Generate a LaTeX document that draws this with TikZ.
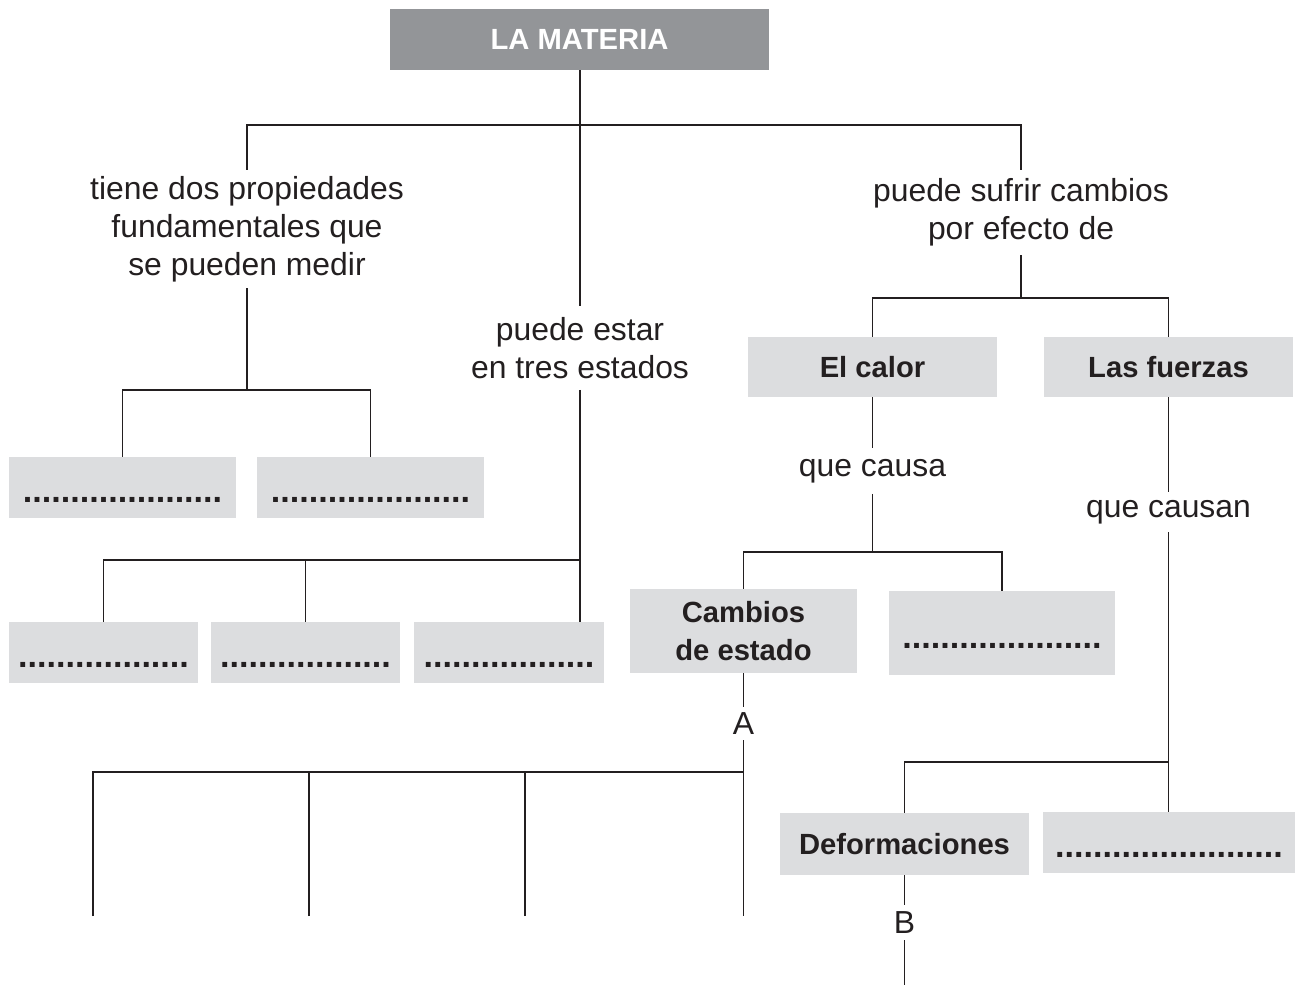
\documentclass[tikz,border=0pt]{standalone}
\usepackage{fontspec}
\setmainfont{Liberation Sans}
\definecolor{ink}{HTML}{231F20}
\definecolor{boxg}{HTML}{DCDDDF}
\definecolor{topg}{HTML}{939598}
\newcommand{\regf}{\fontsize{23.9}{28.5}\selectfont}
\newcommand{\boldf}{\fontsize{21.9}{28.5}\selectfont\bfseries}
\newcommand{\dotsf}[1]{\raisebox{-11.5pt}[0pt][0pt]{\fontsize{25.6}{28}\selectfont\bfseries #1}}
\begin{document}
\begin{tikzpicture}[x=0.75pt,y=-0.75pt,
  conn/.style={draw=ink,line width=1.1pt},
  gbox/.style={fill=boxg,inner sep=0pt,text=ink,font=\boldf,align=center,
    minimum width=#1*0.75pt,minimum height=61*0.75pt},
  lbl/.style={inner sep=0pt,text=ink,font=\regf,align=center,minimum height=#1*0.75pt},
  bh/.style={minimum height=#1*0.75pt}]
\useasboundingbox (0,0) rectangle (1295,985);

% top
\node[gbox=379,fill=topg,text=white] (top) at (579.5,39.5) {LA MATERIA};
\coordinate (j1) at (580,125);
\node[lbl=118] (lt) at (247,229) {tiene dos propiedades\\fundamentales que\\se pueden medir};
\node[lbl=83] (mt) at (580,348) {puede estar\\en tres estados};
\node[lbl=85] (rt) at (1021,212.5) {puede sufrir cambios\\por efecto de};
\draw[conn] (top.south -| j1) -- (j1);
\draw[conn] (lt.north) |- (j1) -| (rt.north);
\draw[conn] (j1) -- (mt.north);

% left subtree
\coordinate (j2) at (247,390);
\node[gbox=227] (b1) at (122.5,487.5) {\dotsf{.....................}};
\node[gbox=227] (b2) at (370.5,487.5) {\dotsf{.....................}};
\draw[conn] (lt.south) -- (j2);
\draw[conn] (b1.north) |- (j2) -| (b2.north);

% middle subtree
\node[gbox=189] (b3) at (103.5,652.5) {\dotsf{..................}};
\node[gbox=189] (b4) at (305.5,652.5) {\dotsf{..................}};
\node[gbox=190] (b5) at (509,652.5) {\dotsf{..................}};
\coordinate (j3) at (580,560);
\draw[conn] (mt.south) -- (mt.south |- b5.north);
\draw[conn] (b3.north) |- (j3);
\draw[conn] (b4.north) -- (b4.north |- j3);

% right subtree
\coordinate (j4) at (1021,298);
\node[gbox=249,bh=60] (cal) at (872.5,367) {El calor};
\node[gbox=249,bh=60] (fue) at (1168.5,367) {Las fuerzas};
\draw[conn] (rt.south) -- (j4);
\draw[conn] (cal.north) |- (j4) -| (fue.north);

\node[lbl=45] (qc) at (872.5,471) {que causa};
\draw[conn] (cal.south) -- (qc.north);
\coordinate (j5) at (872.5,552);
\draw[conn] (qc.south) -- (j5);
\node[gbox=227,bh=84] (ce) at (743.5,631) {Cambios\\de estado};
\node[gbox=226,bh=84] (d3) at (1002,633) {\dotsf{.....................}};
\draw[conn] (ce.north) |- (j5) -| (d3.north);

\node[lbl=33] (la) at (743.5,723.5) {A};
\draw[conn] (ce.south) -- (la.north);
\coordinate (e1) at (93,916);
\coordinate (e2) at (309,916);
\coordinate (e3) at (525,916);
\coordinate (e4) at (743.5,916);
\coordinate (j6) at (743.5,772);
\draw[conn] (la.south) -- (e4);
\draw[conn] (e1) |- (j6);
\draw[conn] (e2) -- (e2 |- j6);
\draw[conn] (e3) -- (e3 |- j6);

\node[lbl=40] (qcs) at (1168.5,512) {que causan};
\draw[conn] (fue.south) -- (qcs.north);
\node[gbox=252] (d4) at (1169,842.5) {\dotsf{........................}};
\node[gbox=249,bh=62] (def) at (904.5,844) {Deformaciones};
\coordinate (j7) at (1168.5,762);
\draw[conn] (qcs.south) -- (qcs.south |- d4.north);
\draw[conn] (def.north) |- (j7);

\node[lbl=35] (lb) at (904.5,922.5) {B};
\coordinate (eB) at (904.5,985);
\draw[conn] (def.south) -- (lb.north);
\draw[conn] (lb.south) -- (eB);
\end{tikzpicture}
\end{document}
